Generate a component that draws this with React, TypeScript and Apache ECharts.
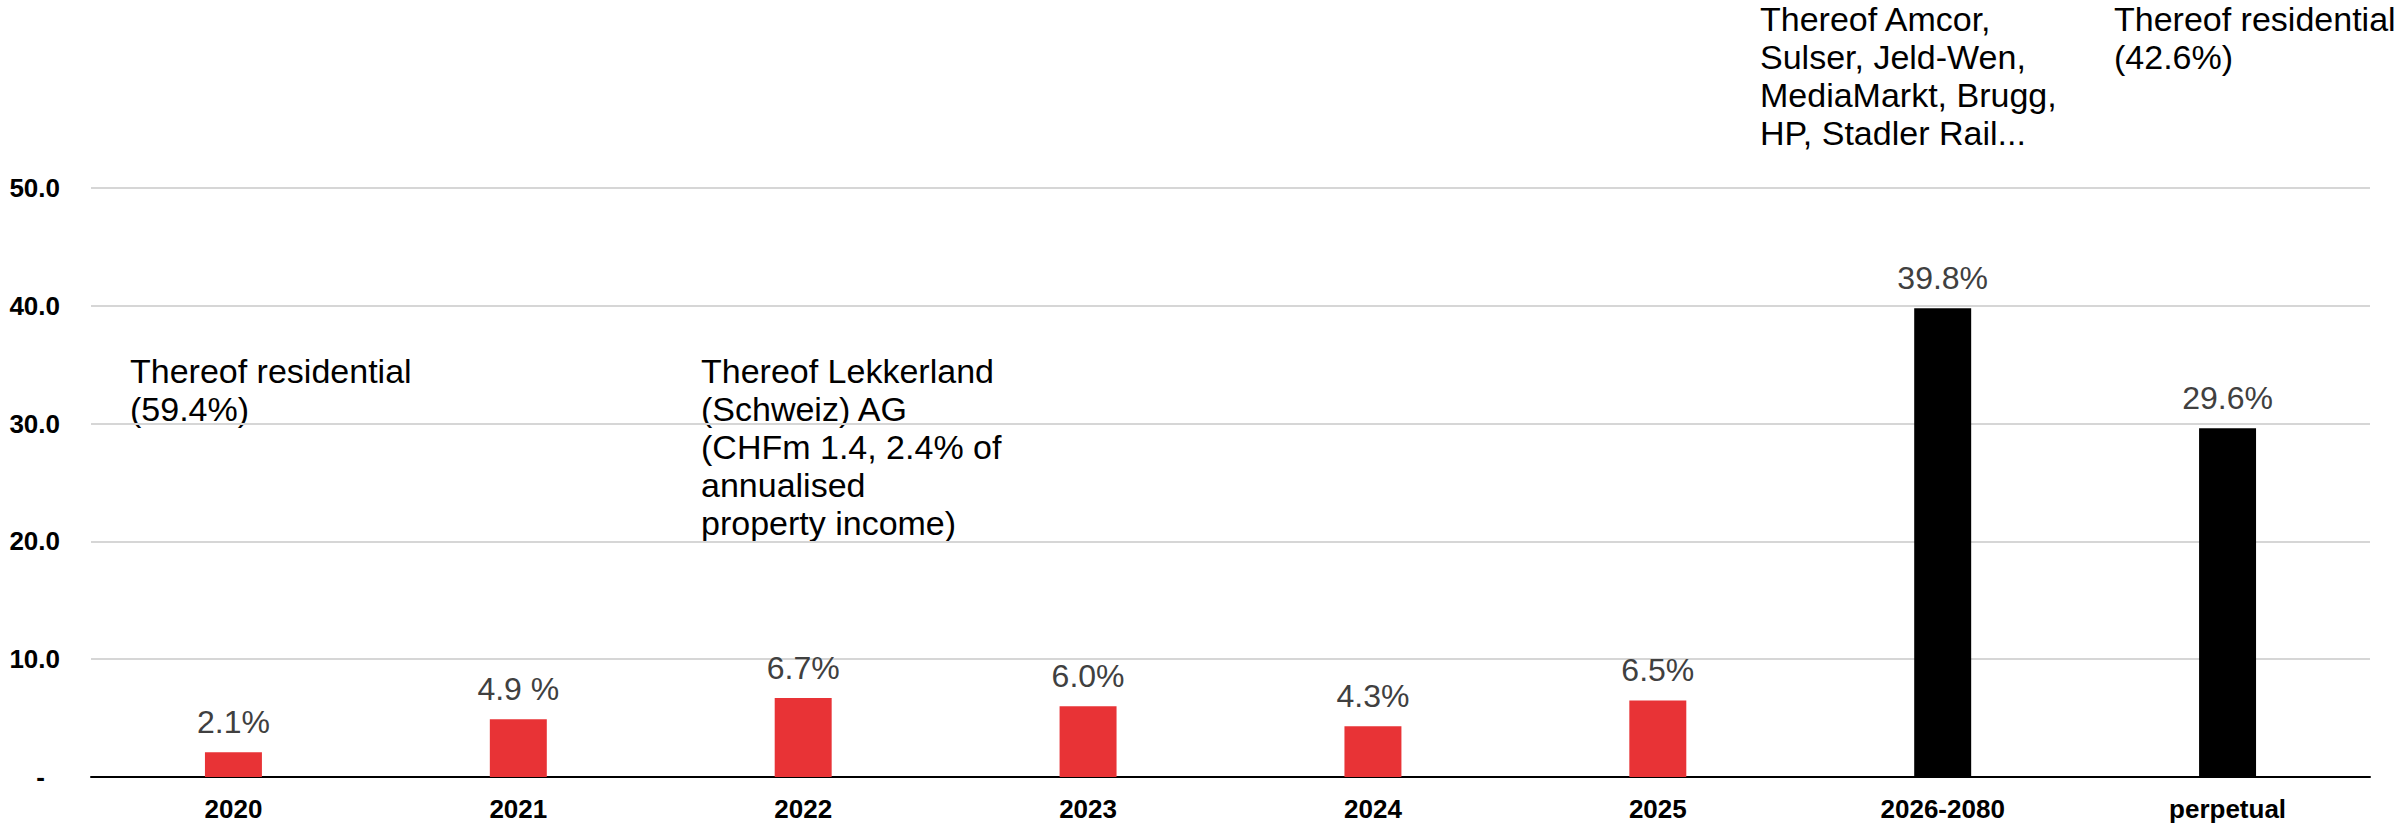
import React, { useEffect, useRef } from "react";
import * as echarts from "echarts";

const categories = ["2020", "2021", "2022", "2023", "2024", "2025", "2026-2080", "perpetual"];
const values = [2.1, 4.9, 6.7, 6.0, 4.3, 6.5, 39.8, 29.6];
const valueLabels = ["2.1%", "4.9 %", "6.7%", "6.0%", "4.3%", "6.5%", "39.8%", "29.6%"];
const yTicks = [0, 10, 20, 30, 40, 50];
const notes = [
  "Thereof residential\n(59.4%)",
  "Thereof Lekkerland\n(Schweiz) AG\n(CHFm 1.4, 2.4% of\nannualised\nproperty income)",
  "Thereof Amcor,\nSulser, Jeld-Wen,\nMediaMarkt, Brugg,\nHP, Stadler Rail...",
  "Thereof residential\n(42.6%)",
];

const RED = "#e83336";
const BLACK = "#000000";
const FONT = "'Liberation Sans', Arial, Helvetica, sans-serif";

export default function App() {
  const ref = useRef<HTMLDivElement>(null);
  useEffect(() => {
    document.body.style.margin = "0";
    if (!ref.current) return;
    const chart = echarts.init(ref.current, null, { renderer: "svg" });
    const noteStyle = (text: string) => ({
      text,
      fontSize: 34,
      lineHeight: 38,
      fontFamily: FONT,
      fill: "#000",
      verticalAlign: "top",
      align: "left",
    });
    chart.setOption({
      animation: false,
      textStyle: { fontFamily: FONT },
      grid: { left: 91, right: 30, top: 188, bottom: 52, containLabel: false, outerBoundsMode: "none" },
      xAxis: {
        type: "category",
        data: categories,
        axisLine: { show: true, lineStyle: { color: "#000", width: 2 } },
        axisTick: { show: false },
        axisLabel: { fontSize: 26, fontWeight: "bold", color: "#000", margin: 19, fontFamily: FONT },
      },
      yAxis: {
        type: "value",
        min: yTicks[0],
        max: yTicks[yTicks.length - 1],
        interval: yTicks[1] - yTicks[0],
        axisLine: { show: false },
        axisTick: { show: false },
        splitLine: { show: true, lineStyle: { color: "#d6d6d6", width: 2 } },
        axisLabel: {
          margin: 31,
          fontSize: 26,
          fontWeight: "bold",
          color: "#000",
          fontFamily: FONT,
          formatter: (v: number) => (v === 0 ? "{d|-}" : v.toFixed(1)),
          rich: {
            d: { fontSize: 26, fontWeight: "bold", color: "#000", fontFamily: FONT, padding: [0, 15, 0, 0] },
          },
        },
      },
      series: [
        {
          type: "bar",
          barWidth: "20%",
          data: values.map((v, i) => ({
            value: v,
            itemStyle: { color: i < 6 ? RED : BLACK },
          })),
          label: {
            show: true,
            position: "top",
            distance: 14,
            fontSize: 32,
            color: "#404040",
            fontFamily: FONT,
            formatter: (p: any) => valueLabels[p.dataIndex],
          },
        },
      ],
      graphic: [
        { type: "text", x: 130, y: 352, style: noteStyle(notes[0]) },
        { type: "text", x: 701, y: 352, style: noteStyle(notes[1]) },
        { type: "text", x: 1760, y: 0, style: noteStyle(notes[2]) },
        { type: "text", x: 2114, y: 0, style: noteStyle(notes[3]) },
      ],
    });
    return () => chart.dispose();
  }, []);
  return <div ref={ref} style={{ width: 2400, height: 829 }} />;
}
